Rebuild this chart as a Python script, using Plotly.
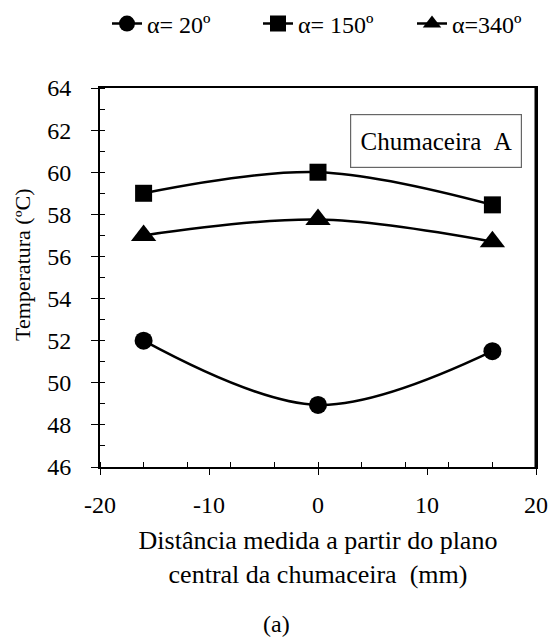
import plotly.graph_objects as go

x_mm = [-16, 0, 16]
temp_a20 = [52.0, 48.95, 51.5]
temp_a150 = [59.0, 60.0, 58.45]
temp_a340 = [57.0, 57.75, 56.7]
series_names = ["\u03b1= 20\u00ba", "\u03b1= 150\u00ba", "\u03b1=340\u00ba"]
x_ticks = [-20, -10, 0, 10, 20]
y_ticks = [46, 48, 50, 52, 54, 56, 58, 60, 62, 64]

FONT = "Liberation Serif"
W, H = 550, 639
L, R, T, B = 100, 14, 88, 172
PW, PH = W - L - R, H - T - B


def px_x(px):
    return (px - L) / PW


def px_y(py):
    return (H - B - py) / PH


fig = go.Figure()
symbols = ["circle", "square", "triangle-up"]
sizes = [18, 17, 22]
legend_ids = ["legend", "legend2", "legend3"]
legend_left_px = [107, 258, 412]
for name, vals, sym, sz, lg in zip(series_names, [temp_a20, temp_a150, temp_a340], symbols, sizes, legend_ids):
    fig.add_trace(go.Scatter(
        x=x_mm, y=vals, name=name, mode="lines+markers", legend=lg,
        line=dict(color="black", width=2.5, shape="spline", smoothing=1),
        marker=dict(symbol=sym, size=sz, color="black"),
    ))

fig.add_annotation(
    x=10.85, y=61.5, xref="x", yref="y", text="Chumaceira&nbsp;&nbsp;A",
    showarrow=False, font=dict(family=FONT, size=25, color="black"),
    bordercolor="#666", borderwidth=1.2, borderpad=8, bgcolor="white",
    width=154, height=36,
)
fig.add_annotation(
    x=px_x(276), y=px_y(624), xref="paper", yref="paper", text="(a)",
    showarrow=False, font=dict(family=FONT, size=24, color="black"),
    xanchor="center", yanchor="middle",
)
fig.add_annotation(
    x=px_x(22), y=px_y(265), xref="paper", yref="paper", text="Temperatura (\u00baC)",
    textangle=-90, showarrow=False, font=dict(family=FONT, size=22, color="black"),
    xanchor="center", yanchor="middle",
)
# thicker right frame edge, as in the reference
fig.add_shape(type="line", xref="paper", yref="paper", x0=1, x1=1, y0=0, y1=1,
              line=dict(color="black", width=3))

legend_common = dict(
    orientation="h", xref="paper", yref="paper", yanchor="middle", xanchor="left",
    font=dict(family=FONT, size=24, color="black"), itemwidth=30,
    bgcolor="rgba(0,0,0,0)",
)

fig.update_layout(
    width=W, height=H,
    margin=dict(l=L, r=R, t=T, b=B, autoexpand=False),
    paper_bgcolor="white", plot_bgcolor="white",
    font=dict(family=FONT, size=24, color="black"),
    showlegend=True,
    legend=dict(x=px_x(legend_left_px[0]), y=px_y(24), **legend_common),
    legend2=dict(x=px_x(legend_left_px[1]), y=px_y(24), **legend_common),
    legend3=dict(x=px_x(legend_left_px[2]), y=px_y(24), **legend_common),
    xaxis=dict(
        range=[-20, 20], tickvals=x_ticks, ticktext=[str(v) for v in x_ticks],
        ticks="outside", ticklen=6, tickwidth=1.2, tickcolor="black",
        showline=True, linecolor="black", linewidth=2, mirror=True,
        showgrid=False, zeroline=False,
        minor=dict(ticks="inside", dtick=4, tick0=-20, ticklen=5, tickcolor="black", tickwidth=1, showgrid=False),
        title=dict(text="Dist\u00e2ncia medida a partir do plano<br>central da chumaceira&nbsp;&nbsp;(mm)",
                   font=dict(family=FONT, size=26), standoff=14),
        tickfont=dict(family=FONT, size=24),
        ticklabelstandoff=9,
    ),
    yaxis=dict(
        range=[46, 64], tickvals=y_ticks, ticktext=[str(v) for v in y_ticks],
        ticks="outside", ticklen=7, tickwidth=1.2, tickcolor="black",
        showline=True, linecolor="black", linewidth=2, mirror=True,
        showgrid=False, zeroline=False,
        minor=dict(ticks="inside", dtick=1, tick0=46, ticklen=5, tickcolor="black", tickwidth=1, showgrid=False),
        tickfont=dict(family=FONT, size=24),
        ticklabelstandoff=15,
    ),
)

fig.write_html("out.html", config={"displayModeBar": False},
               post_script="document.body.style.margin='0px';")
